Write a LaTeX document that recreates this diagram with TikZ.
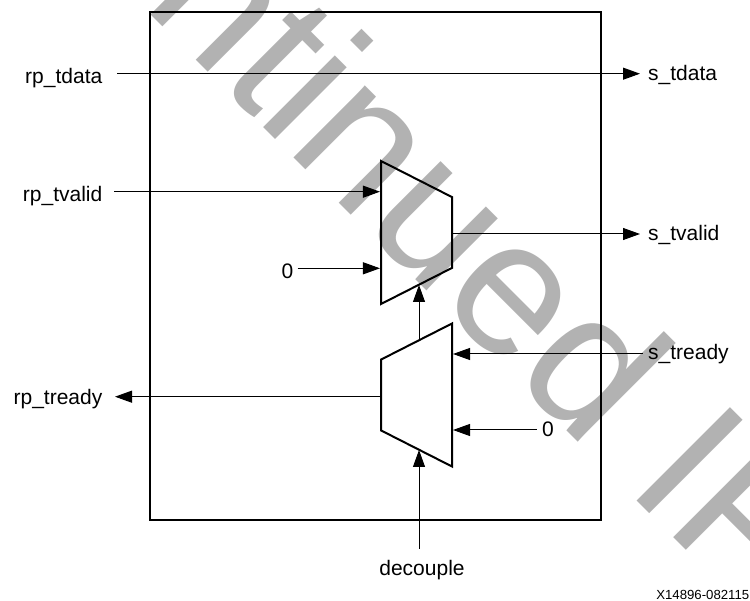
\documentclass[tikz,border=0pt]{standalone}
\usepackage{fontspec}
\setmainfont{Liberation Sans}
\usetikzlibrary{arrows.meta,positioning,shapes.geometric}

\begin{document}
\begin{tikzpicture}[
  x=1pt,y=-1pt,
  frame/.style={draw,line width=2pt,minimum width=451pt,minimum height=507pt,inner sep=0pt},
  muxbox/.style={draw,line width=2pt,shape=trapezium,trapezium left angle=63,trapezium right angle=63,trapezium stretches=true,minimum width=143pt,minimum height=71pt,inner sep=1pt},
  sig/.style={line width=1pt,-{Triangle[length=17pt,width=12pt]}},
  lbl/.style={font=\fontsize{21}{24}\selectfont,inner sep=0pt,text height=14pt,text depth=0pt},
  lbltall/.style={lbl,text height=19.6pt},
  stamp/.style={font=\fontsize{192}{200}\selectfont,text=black!30,inner sep=0pt,rotate=-45,anchor=base west}
]
  \useasboundingbox (0,0) rectangle (750,601);
  \begin{scope}
    \clip (0,0) rectangle (750,601);
    \node[stamp] (mark) at (-198,-334) {Discontinued IP};
  \end{scope}
  \node[frame] (dut) at (375.5,266) {};
  \node[muxbox,rotate=-90] (muxa) at (416.5,232.5) {};
  \node[muxbox,rotate=90] (muxb) at (416.5,395) {};
  \coordinate (sela) at (419,285);
  \coordinate (outb) at (419,340);
  \coordinate (selb) at (419,450);
  \node[lbltall,anchor=east] (rptdata) at (102.5,73.7) {rp\_tdata};
  \node[lbltall,anchor=east] (rptvalid) at (102.5,191.7) {rp\_tvalid};
  \node[lbl,anchor=east,text height=15.2pt] (rptready) at (102.5,396.7) {rp\_tready};
  \node[lbl,anchor=west] (stdata) at (648,73.7) {s\_tdata};
  \node[lbl,anchor=west] (stvalid) at (648,234) {s\_tvalid};
  \node[lbl,anchor=west,text height=11pt] (stready) at (648,354) {s\_tready};
  \node[lbltall,anchor=east] (zeroa) at (293.5,268.3) {0};
  \node[lbl,anchor=west] (zerob) at (542,430) {0};
  \node[lbl] (decouple) at (422,568) {decouple};
  \node[font=\fontsize{13.2}{15}\selectfont,inner sep=0pt,anchor=east] (partno) at (749.5,595) {X14896-082115};
  \draw[sig] ([xshift=14.5pt]rptdata.east) -- ([xshift=-8pt]stdata.west);
  \draw[sig] ([xshift=11.5pt]rptvalid.east) -- (rptvalid.east -| muxa.south);
  \draw[sig] ([xshift=4pt]zeroa.east) -- (zeroa.east -| muxa.south);
  \draw[sig] (stvalid.west -| muxa.north) -- ([xshift=-8pt]stvalid.west);
  \draw[sig] (outb) -- (sela);
  \draw[sig] (rptready.east -| muxb.north) -- ([xshift=12.5pt]rptready.east);
  \draw[sig] ([xshift=-5.3pt]stready.west) -- (stready.west -| muxb.south);
  \draw[sig] ([xshift=-5.3pt]zerob.west) -- (zerob.west -| muxb.south);
  \draw[sig] ([yshift=12pt]selb |- decouple.north) -- (selb);
\end{tikzpicture}
\end{document}
